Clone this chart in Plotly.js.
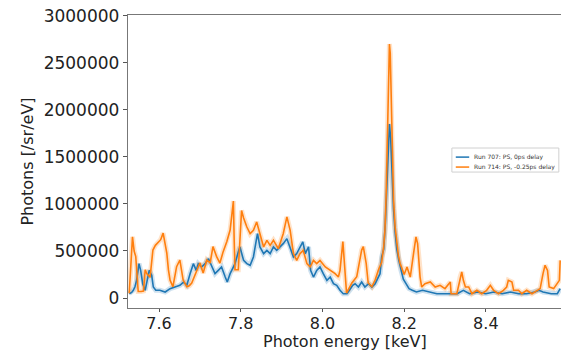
<!DOCTYPE html>
<html>
<head>
<meta charset="utf-8">
<script src="https://cdn.plot.ly/plotly-3.0.1.min.js"></script>
<style>html,body{margin:0;padding:0;background:#fff}#chart{width:561px;height:350px}</style>
</head>
<body>
<div id="chart"></div>
<script>
// Run 707: PS, 0ps delay (blue)
const energyBlue = [7.527,7.533,7.537,7.541,7.545,7.551,7.555,7.560,7.566,7.571,7.576,7.582,7.586,7.592,7.602,7.615,7.627,7.639,7.651,7.660,7.668,7.676,7.684,7.691,7.696,7.704,7.713,7.721,7.729,7.737,7.745,7.753,7.762,7.767,7.774,7.782,7.786,7.794,7.798,7.807,7.815,7.823,7.831,7.838,7.841,7.847,7.856,7.864,7.872,7.880,7.888,7.896,7.904,7.913,7.921,7.929,7.937,7.945,7.952,7.958,7.966,7.971,7.978,7.986,7.994,8.002,8.011,8.019,8.027,8.035,8.043,8.051,8.060,8.066,8.074,8.080,8.088,8.096,8.104,8.113,8.121,8.129,8.137,8.141,8.145,8.150,8.154,8.158,8.161,8.164,8.167,8.170,8.174,8.178,8.182,8.187,8.192,8.198,8.205,8.212,8.220,8.230,8.245,8.260,8.280,8.300,8.330,8.345,8.360,8.380,8.400,8.420,8.440,8.460,8.480,8.500,8.520,8.530,8.540,8.560,8.575,8.582];
const photonsBlue = [46000,60000,82000,120000,188000,365000,294000,152000,82000,188000,294000,241000,117000,82000,82000,64000,100000,117000,135000,170000,135000,259000,365000,294000,365000,330000,365000,418000,330000,259000,294000,330000,223000,170000,259000,330000,365000,490000,543000,400000,365000,348000,436000,613000,684000,543000,472000,507000,472000,543000,507000,543000,578000,631000,543000,436000,472000,543000,596000,472000,543000,294000,223000,294000,330000,259000,188000,223000,152000,135000,82000,46000,46000,82000,135000,152000,117000,170000,117000,152000,117000,152000,223000,259000,436000,520000,800000,1200000,1600000,1850000,1700000,1300000,950000,700000,520000,400000,300000,200000,150000,100000,82000,64000,82000,64000,46000,46000,46000,82000,46000,64000,46000,64000,46000,64000,46000,46000,64000,82000,64000,46000,46000,100000];

// Run 714: PS, -0.25ps delay (orange)
const energyOrange = [7.527,7.531,7.535,7.539,7.543,7.546,7.549,7.556,7.562,7.566,7.570,7.578,7.585,7.591,7.597,7.604,7.610,7.614,7.619,7.623,7.627,7.634,7.638,7.643,7.651,7.655,7.659,7.668,7.674,7.680,7.686,7.692,7.700,7.708,7.717,7.725,7.732,7.741,7.749,7.757,7.766,7.774,7.779,7.782,7.784,7.786,7.794,7.798,7.802,7.807,7.815,7.823,7.831,7.839,7.847,7.856,7.864,7.872,7.880,7.892,7.904,7.913,7.921,7.929,7.937,7.945,7.953,7.962,7.970,7.978,7.986,7.994,8.007,8.019,8.031,8.039,8.043,8.050,8.054,8.059,8.072,8.084,8.096,8.100,8.107,8.112,8.121,8.129,8.137,8.145,8.150,8.153,8.156,8.159,8.162,8.164,8.166,8.168,8.171,8.174,8.178,8.182,8.186,8.190,8.195,8.200,8.207,8.215,8.223,8.229,8.233,8.239,8.243,8.251,8.264,8.276,8.288,8.300,8.313,8.315,8.329,8.337,8.341,8.345,8.350,8.358,8.366,8.378,8.390,8.402,8.411,8.419,8.431,8.443,8.451,8.455,8.464,8.468,8.480,8.488,8.500,8.513,8.525,8.533,8.540,8.545,8.551,8.555,8.566,8.574,8.580,8.582];
const photonsOrange = [50000,420000,650000,500000,440000,250000,70000,70000,75000,300000,260000,220000,510000,560000,585000,620000,690000,600000,477000,300000,190000,120000,200000,333000,404000,300000,191000,120000,130000,160000,220000,298000,372000,266000,404000,372000,546000,440000,372000,493000,600000,723000,900000,1030000,600000,300000,300000,600000,930000,850000,755000,684000,720000,808000,684000,543000,613000,560000,613000,525000,684000,862000,720000,472000,400000,472000,507000,365000,330000,400000,365000,400000,330000,294000,259000,223000,294000,600000,300000,53000,160000,227000,510000,546000,372000,160000,120000,191000,298000,380000,550000,720000,1100000,1700000,2400000,2700000,2600000,2100000,1500000,1050000,750000,560000,450000,370000,300000,250000,330000,223000,472000,649000,578000,223000,117000,152000,170000,117000,135000,100000,170000,46000,46000,223000,277000,188000,117000,117000,46000,82000,46000,82000,135000,82000,46000,82000,117000,188000,170000,82000,82000,46000,82000,46000,82000,100000,259000,348000,294000,117000,100000,152000,188000,400000];

const seriesNames = ["Run 707: PS, 0ps delay", "Run 714: PS, -0.25ps delay"];
const xTickVals = [7.6, 7.8, 8.0, 8.2, 8.4];
const xTickText = ["7.6", "7.8", "8.0", "8.2", "8.4"];
const yTickVals = [0, 500000, 1000000, 1500000, 2000000, 2500000, 3000000];
const xTitle = "Photon energy [keV]";
const yTitle = "Photons [/sr/eV]";

const blue = "#1f77b4", orange = "#ff7f0e";
const colors = [blue, orange];
const traces = [
  {x: energyBlue, y: photonsBlue, mode: "lines", line: {color: blue, width: 5}, opacity: 0.22, showlegend: false, hoverinfo: "skip"},
  {x: energyOrange, y: photonsOrange, mode: "lines", line: {color: orange, width: 5}, opacity: 0.22, showlegend: false, hoverinfo: "skip"},
  {x: energyBlue, y: photonsBlue, mode: "lines", name: seriesNames[0], line: {color: blue, width: 1.6}, showlegend: false},
  {x: energyOrange, y: photonsOrange, mode: "lines", name: seriesNames[1], line: {color: orange, width: 1.6}, showlegend: false}
];

// compact legend box (drawn in paper coordinates)
const legX0 = 0.748, legX1 = 0.995, legY0 = 0.464, legY1 = 0.546;
const legRowY = [0.515, 0.481];
const shapes = [{type: "rect", xref: "paper", yref: "paper", x0: legX0, x1: legX1, y0: legY0, y1: legY1,
                 line: {color: "#d0d0d0", width: 1}, fillcolor: "#fff", layer: "above"}];
const annotations = [];
seriesNames.forEach((n, i) => {
  shapes.push({type: "line", xref: "paper", yref: "paper", x0: 0.757, x1: 0.788, y0: legRowY[i], y1: legRowY[i],
               line: {color: colors[i], width: 1.5}, layer: "above"});
  annotations.push({xref: "paper", yref: "paper", x: 0.795, y: legRowY[i], xanchor: "left", yanchor: "middle",
                    text: n, showarrow: false, font: {family: "DejaVu Sans, sans-serif", size: 6, color: "#333"}});
});

const font = "DejaVu Sans, sans-serif";
annotations.push({xref: "paper", yref: "paper", x: 0.5, y: -0.113, xanchor: "center", yanchor: "middle",
                  text: xTitle, showarrow: false, font: {family: font, size: 16, color: "#222"}});

const layout = {
  width: 561, height: 350,
  margin: {l: 128, r: 0, t: 15, b: 42},
  paper_bgcolor: "#fff", plot_bgcolor: "#fff",
  showlegend: false,
  shapes: shapes,
  annotations: annotations,
  xaxis: {range: [7.524, 8.584], tickvals: xTickVals, ticktext: xTickText, showgrid: false, zeroline: false,
          showline: true, linecolor: "#777", linewidth: 1.2, mirror: true, ticks: "outside", ticklen: 3, tickcolor: "#555",
          ticklabelstandoff: -2,
          tickfont: {family: font, size: 16, color: "#222"}},
  yaxis: {range: [-106000, 3008000], tickvals: yTickVals, tickformat: "d", showgrid: false, zeroline: false,
          showline: true, linecolor: "#777", linewidth: 1.2, ticks: "outside", ticklen: 4, tickcolor: "#555",
          tickfont: {family: font, size: 17, color: "#222"},
          title: {text: yTitle, font: {family: font, size: 16, color: "#222"}, standoff: 6}}
};
Plotly.newPlot("chart", traces, layout, {staticPlot: true, displayModeBar: false});
</script>
</body>
</html>
